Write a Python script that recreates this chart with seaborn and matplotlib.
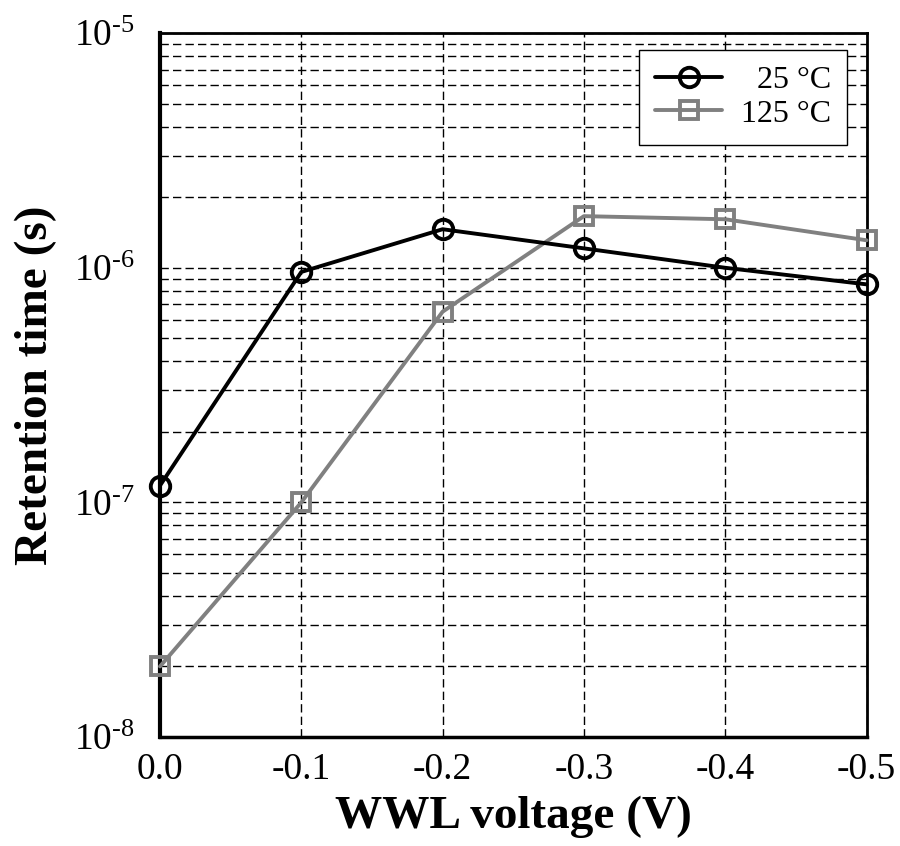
import matplotlib
matplotlib.use("Agg")
import matplotlib.pyplot as plt
import seaborn as sns
import pandas as pd
import numpy as np
from matplotlib.ticker import LogLocator, FixedLocator, FuncFormatter, NullFormatter

voltage = [0.0, -0.1, -0.2, -0.3, -0.4, -0.5]
ret_25 = [1.18e-7, 9.6e-7, 1.46e-6, 1.21e-6, 1.0e-6, 8.5e-7]
ret_125 = [2.0e-8, 1.0e-7, 6.5e-7, 1.66e-6, 1.61e-6, 1.31e-6]
xtick_labels = ["0.0", "-0.1", "-0.2", "-0.3", "-0.4", "-0.5"]

sns.set_style("white")
plt.rcParams['font.family'] = ['Liberation Serif', 'DejaVu Serif']
plt.rcParams['mathtext.fontset'] = 'custom'
plt.rcParams['mathtext.rm'] = 'Liberation Serif'
plt.rcParams['mathtext.it'] = 'Liberation Serif'
plt.rcParams['mathtext.default'] = 'rm'
plt.rcParams['text.color'] = 'black'
plt.rcParams['axes.labelcolor'] = 'black'
plt.rcParams['xtick.color'] = 'black'
plt.rcParams['ytick.color'] = 'black'

df25 = pd.DataFrame({"v": voltage, "t": ret_25})
df125 = pd.DataFrame({"v": voltage, "t": ret_125})

fig = plt.figure(figsize=(9, 8.46), dpi=100)
ax = fig.add_axes([0.1778, 0.1288, 0.785, 0.832])

sns.lineplot(data=df25, x="v", y="t", ax=ax, color="black",
             marker="o", label="  25 °C", zorder=4,
             linewidth=2.8, markersize=14, markerfacecolor="none",
             markeredgecolor="black", markeredgewidth=2.8, clip_on=False)
sns.lineplot(data=df125, x="v", y="t", ax=ax, color="#808080",
             marker="s", label="125 °C", zorder=3,
             linewidth=2.8, markersize=13, markerfacecolor="none",
             markeredgecolor="#808080", markeredgewidth=2.8, clip_on=False)

ax.set_yscale("log")
ax.set_ylim(1e-8, 1e-5)
ax.set_xlim(0.0, -0.5)
ax.xaxis.set_major_locator(FixedLocator(voltage))
ax.set_xticklabels(xtick_labels)
ax.yaxis.set_major_locator(LogLocator(base=10, numticks=10))
ax.yaxis.set_major_formatter(FuncFormatter(lambda v, p: r"$10^{\text{%d}}$" % int(round(np.log10(v)))))
ax.yaxis.set_minor_locator(LogLocator(base=10, subs=np.arange(2, 10), numticks=20))
ax.yaxis.set_minor_formatter(NullFormatter())

ax.grid(True, which="both", axis="y", color="black", linestyle=(0, (6, 3)), lw=1.0)
ax.grid(True, which="major", axis="x", color="black", linestyle=(0, (6, 3)), lw=1.0)
ax.set_axisbelow(True)

ax.tick_params(axis="both", which="major", labelsize=27, direction="in", length=8, width=1.5,
               color="black", labelcolor="black")
ax.tick_params(axis="y", which="minor", direction="in", length=6, width=1.5, color="black")
ax.tick_params(axis="x", which="major", length=0, pad=11)
ax.tick_params(axis="y", which="major", pad=18)

for s in ax.spines.values():
    s.set_color("black")
    s.set_linewidth(2)
ax.spines["left"].set_linewidth(3)
ax.spines["bottom"].set_linewidth(2.5)

ax.set_xlabel("WWL voltage (V)", fontsize=34, fontweight="bold", labelpad=6, color="black")
ax.set_ylabel("Retention time (s)", fontsize=34, fontweight="bold", labelpad=12, color="black")

leg = ax.legend(loc="upper right", bbox_to_anchor=(0.973, 0.976), borderaxespad=0,
                fontsize=23, frameon=True, fancybox=False, edgecolor="black",
                framealpha=1, handlelength=2.1, handletextpad=0.6,
                borderpad=0.5, labelspacing=0.12)
leg.get_frame().set_linewidth(1.0)
for t in leg.get_texts():
    t.set_color("black")

fig.savefig("out.png", dpi=100)
